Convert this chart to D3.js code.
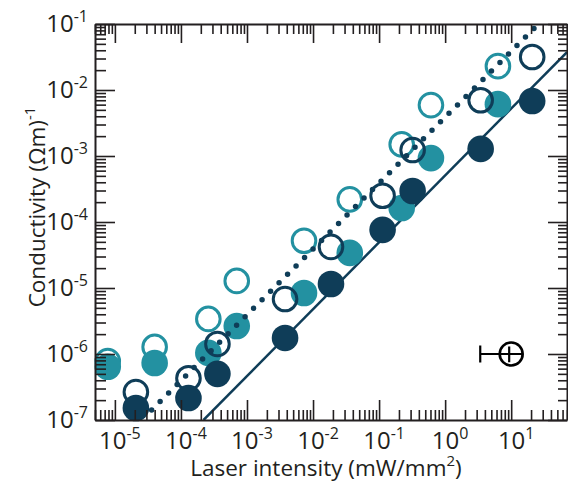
<!DOCTYPE html>
<html>
<head>
<meta charset="utf-8">
<script src="https://cdn.jsdelivr.net/npm/d3@7"></script>
<style>
  body { margin: 0; background: #fff; }
  text { font-family: "Open Sans", sans-serif; fill: #231f20; }
</style>
</head>
<body>
<script>
/* data */
var tealIntensity = [7.8e-6, 4.0e-5, 2.6e-4, 7.0e-4, 7.3e-3, 3.6e-2, 0.22, 0.61, 6.3];
var tealOpen      = [7.8e-7, 1.28e-6, 3.4e-6, 1.28e-5, 5.2e-5, 2.2e-4, 1.5e-3, 5.9e-3, 0.023];
var tealFilled    = [6.4e-7, 7.3e-7, 1.04e-6, 2.65e-6, 8.4e-6, 3.4e-5, 1.63e-4, 9.3e-4, 6.1e-3];

var navyIntensity = [2.08e-5, 1.3e-4, 3.57e-4, 3.77e-3, 1.87e-2, 0.113, 0.322, 3.45, 20.8];
var navyOpen      = [2.65e-7, 4.3e-7, 1.42e-6, 6.8e-6, 4.2e-5, 2.5e-4, 1.23e-3, 7.0e-3, 0.0316];
var navyFilled    = [1.52e-7, 2.15e-7, 5.0e-7, 1.75e-6, 1.15e-5, 7.6e-5, 2.95e-4, 1.28e-3, 6.8e-3];

/* fit lines (end points) */
var solidFitX  = [2.2e-4, 70];
var solidFitY  = [1e-7, 0.0375];
var dottedFitX = [3.6e-5, 26];
var dottedFitY = [1.42e-7, 0.1];

/* reference error marker */
var refX = 10, refY = 1e-6, refXLow = 3.4, refXHigh = 15, refYLow = 7.5e-7, refYHigh = 1.3e-6;

var xMajor = [-5, -4, -3, -2, -1, 0, 1];
var yMajor = [-7, -6, -5, -4, -3, -2, -1];

var teal = "#2391a1", navy = "#0f3d58", ink = "#231f20";

var width = 568, height = 483;
var plot = { left: 95, right: 567, top: 24, bottom: 420 };

var x = d3.scaleLog().domain([5e-6, 70]).range([plot.left, plot.right]);
var y = d3.scaleLog().domain([1e-7, 1e-1]).range([plot.bottom, plot.top]);

var svg = d3.select("body").append("svg")
    .attr("width", width)
    .attr("height", height);

svg.append("clipPath").attr("id", "clip")
  .append("rect")
    .attr("x", plot.left).attr("y", plot.top)
    .attr("width", plot.right - plot.left)
    .attr("height", plot.bottom - plot.top);

/* all log ticks 1..9 x 10^e inside a domain */
function logTicks(scale) {
    var dom = scale.domain(), out = [];
    for (var e = Math.floor(Math.log10(dom[0])); e <= Math.ceil(Math.log10(dom[1])); e++) {
        for (var m = 1; m <= 9; m++) {
            var v = m * Math.pow(10, e);
            if (v >= dom[0] * 0.999 && v <= dom[1] * 1.001) out.push(v);
        }
    }
    return out;
}
function isMajor(v) {
    var l = Math.log10(v);
    return Math.abs(l - Math.round(l)) < 1e-6;
}

/* fit lines */
var line = d3.line()
    .x(function(d) { return x(d[0]); })
    .y(function(d) { return y(d[1]); });

var lines = svg.append("g").attr("clip-path", "url(#clip)");

lines.append("path")
    .datum(d3.zip(solidFitX, solidFitY))
    .attr("d", line)
    .attr("fill", "none")
    .attr("stroke", navy)
    .attr("stroke-width", 2.5);

/* points: teal open, teal filled, navy open, navy filled */
function drawSeries(xs, ys, color, filled) {
    svg.append("g").selectAll("circle")
        .data(d3.zip(xs, ys))
        .enter().append("circle")
        .attr("cx", function(d) { return x(d[0]); })
        .attr("cy", function(d) { return y(d[1]); })
        .attr("r", filled ? 13.3 : 11.8)
        .attr("fill", filled ? color : "none")
        .attr("stroke", filled ? "none" : color)
        .attr("stroke-width", 3);
}
drawSeries(tealIntensity, tealOpen, teal, false);
drawSeries(tealIntensity, tealFilled, teal, true);
drawSeries(navyIntensity, navyOpen, navy, false);
drawSeries(navyIntensity, navyFilled, navy, true);

/* dotted fit on top */
svg.append("g").attr("clip-path", "url(#clip)")
  .append("path")
    .datum(d3.zip(dottedFitX, dottedFitY))
    .attr("d", line)
    .attr("fill", "none")
    .attr("stroke", navy)
    .attr("stroke-width", 5.5)
    .attr("stroke-linecap", "round")
    .attr("stroke-dasharray", "0 12");

/* error marker */
var em = svg.append("g").attr("stroke", "#000").attr("stroke-width", 2.2).attr("fill", "none");
em.append("line")
    .attr("x1", x(refXLow)).attr("x2", x(refXHigh))
    .attr("y1", y(refY)).attr("y2", y(refY));
em.append("line")
    .attr("x1", x(refXLow)).attr("x2", x(refXLow))
    .attr("y1", y(refY) - 8.5).attr("y2", y(refY) + 8.5);
em.append("line")
    .attr("x1", x(refX) - 2).attr("x2", x(refX) - 2)
    .attr("y1", y(refYHigh)).attr("y2", y(refYLow));
em.append("circle")
    .attr("cx", x(refX)).attr("cy", y(refY)).attr("r", 11.5)
    .attr("stroke-width", 2.6);

/* axes, ticks inward on all four sides */
var xt = logTicks(x), yt = logTicks(y);

function styleAxis(g, dir, majorLen, minorLen) {
    g.select(".domain").attr("stroke", ink).attr("stroke-width", 2);
    g.selectAll(".tick line")
        .attr("stroke", ink)
        .attr("stroke-width", 1.6)
        .attr(dir.attr, function(d) { return dir.sign * (isMajor(d) ? majorLen : minorLen); });
}

var gb = svg.append("g")
    .attr("transform", "translate(0," + plot.bottom + ")")
    .call(d3.axisBottom(x).tickValues(xt).tickFormat("").tickSizeOuter(0));
styleAxis(gb, { attr: "y2", sign: -1 }, 20, 10);

var gt = svg.append("g")
    .attr("transform", "translate(0," + plot.top + ")")
    .call(d3.axisTop(x).tickValues(xt).tickFormat("").tickSizeOuter(0));
styleAxis(gt, { attr: "y2", sign: 1 }, 19, 10);

var gl = svg.append("g")
    .attr("transform", "translate(" + plot.left + ",0)")
    .call(d3.axisLeft(y).tickValues(yt).tickFormat("").tickSizeOuter(0));
styleAxis(gl, { attr: "x2", sign: 1 }, 20, 11);

var gr = svg.append("g")
    .attr("transform", "translate(" + plot.right + ",0)")
    .call(d3.axisRight(y).tickValues(yt).tickFormat("").tickSizeOuter(0));
styleAxis(gr, { attr: "x2", sign: -1 }, 19, 9);

/* tick labels as 10 with superscript */
function powerLabel(sel) {
    sel.append("tspan").text("10");
    sel.append("tspan")
        .attr("dy", -10)
        .attr("font-size", 16)
        .text(function(e) { return e; });
}

svg.append("g").selectAll("text")
    .data(xMajor)
    .enter().append("text")
    .attr("x", function(e) { return x(Math.pow(10, e)) + 5; })
    .attr("y", 449)
    .attr("text-anchor", "middle")
    .attr("font-size", 24)
    .call(powerLabel);

svg.append("g").selectAll("text")
    .data(yMajor)
    .enter().append("text")
    .attr("x", 88)
    .attr("y", function(e) { return y(Math.pow(10, e)) + 8; })
    .attr("text-anchor", "end")
    .attr("font-size", 24)
    .call(powerLabel);

/* axis titles */
var xTitle = svg.append("text")
    .attr("x", 326).attr("y", 476)
    .attr("text-anchor", "middle")
    .attr("font-size", 22.5);
xTitle.append("tspan").text("Laser intensity (mW/mm");
xTitle.append("tspan").attr("dy", -10).attr("font-size", 15).text("2");
xTitle.append("tspan").attr("dy", 10).text(")");

var yTitle = svg.append("text")
    .attr("transform", "translate(45,207) rotate(-90)")
    .attr("text-anchor", "middle")
    .attr("font-size", 22.5);
yTitle.append("tspan").text("Conductivity (Ωm)");
yTitle.append("tspan").attr("dy", -10).attr("font-size", 15).text("-1");
</script>
</body>
</html>
